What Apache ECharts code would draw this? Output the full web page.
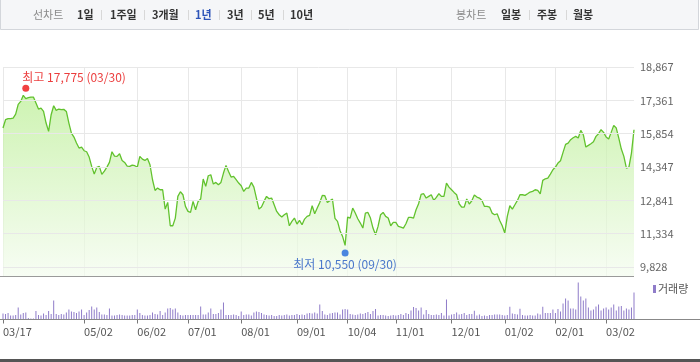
<!DOCTYPE html>
<html><head><meta charset="utf-8">
<script src="https://cdn.jsdelivr.net/npm/echarts@6/dist/echarts.min.js"></script>
<style>html,body{margin:0;padding:0;background:#fff}#c{width:700px;height:362px}</style>
</head><body><div id="c"></div>
<script>
const dates = [
'03/17','03/18','03/21','03/22','03/23','03/24','03/25','03/28','03/29','03/30','03/31',
'04/01','04/04','04/05','04/06','04/07','04/08','04/11','04/12','04/13','04/14','04/15','04/18','04/19','04/20','04/21','04/22','04/25','04/26','04/27','04/28','04/29',
'05/02','05/03','05/04','05/06','05/09','05/10','05/11','05/12','05/13','05/16','05/17','05/18','05/19','05/20','05/23','05/24','05/25','05/26','05/27','05/30','05/31',
'06/02','06/03','06/07','06/08','06/09','06/10','06/13','06/14','06/15','06/16','06/17','06/20','06/21','06/22','06/23','06/24','06/27','06/28','06/29','06/30',
'07/01','07/04','07/05','07/06','07/07','07/08','07/11','07/12','07/13','07/14','07/15','07/18','07/19','07/20','07/21','07/22','07/25','07/26','07/27','07/28','07/29',
'08/01','08/02','08/03','08/04','08/05','08/08','08/09','08/10','08/11','08/12','08/16','08/17','08/18','08/19','08/22','08/23','08/24','08/25','08/26','08/29','08/30','08/31',
'09/01','09/02','09/05','09/06','09/07','09/08','09/13','09/14','09/15','09/16','09/19','09/20','09/21','09/22','09/23','09/26','09/27','09/28','09/29','09/30',
'10/04','10/05','10/06','10/07','10/11','10/12','10/13','10/14','10/17','10/18','10/19','10/20','10/21','10/24','10/25','10/26','10/27','10/28','10/31',
'11/01','11/02','11/03','11/04','11/07','11/08','11/09','11/10','11/11','11/14','11/15','11/16','11/17','11/18','11/21','11/22','11/23','11/24','11/25','11/28','11/29','11/30',
'12/01','12/02','12/05','12/06','12/07','12/08','12/09','12/12','12/13','12/14','12/15','12/16','12/19','12/20','12/21','12/22','12/23','12/26','12/27','12/28','12/29',
'01/02','01/03','01/04','01/05','01/06','01/09','01/10','01/11','01/12','01/13','01/16','01/17','01/18','01/19','01/20','01/25','01/26','01/27','01/30','01/31',
'02/01','02/02','02/03','02/06','02/07','02/08','02/09','02/10','02/13','02/14','02/15','02/16','02/17','02/20','02/21','02/22','02/23','02/24','02/27','02/28',
'03/02','03/03','03/06','03/07','03/08','03/09','03/10','03/13','03/14','03/15','03/16','03/17'
];
const prices = [
16108,16485,16530,16530,16560,16741,17178,17313,17585,17434,
17479,17509,17509,17238,16967,17012,16861,16334,15957,16711,
17118,16907,16967,16937,16952,16861,16334,15881,15701,15430,
15204,15249,15083,15038,14797,14375,14028,14330,14375,14013,
14164,14345,14556,15038,14842,14827,14947,14646,14556,14390,
14375,14435,14405,14345,14827,14706,14646,14737,14450,13772,
13290,13395,13320,13320,12446,12748,11693,11693,12039,13019,
13230,13094,12567,12341,12296,12793,12416,12793,12898,13803,
13471,13953,13998,13577,13652,13546,13652,14074,14420,14149,
13893,13923,13773,13622,13501,13245,13396,13396,13652,13441,
12944,12446,12537,12793,13019,12914,12944,12642,12341,12190,
12085,12190,12265,11693,11889,12039,11768,11934,11738,11994,
12115,12160,12597,12235,12492,12748,13064,13049,12748,12823,
12899,12025,11889,11467,11211,10804,12085,12040,12492,12266,
12009,11814,11588,12266,12296,12040,11588,11286,11663,12190,
12296,12115,12040,11693,11844,11844,11663,11633,11588,11783,
12070,12070,12040,12416,12688,13110,13140,12944,13019,13094,
12838,12974,13140,13019,13019,13622,13441,13321,13200,13094,
12688,12537,12537,12899,12673,12823,13079,12989,12943,12838,
12567,12567,12537,12265,12190,12235,11934,11693,11361,12115,
12597,12446,12642,12838,13094,13094,13064,13139,13215,13245,
13320,13290,13139,13742,13817,13848,14029,14224,14345,14526,
14631,15008,15370,15430,15581,15671,15731,15656,16003,15807,
15249,15324,15400,15490,15731,15852,16033,15912,15701,15611,
15912,16229,16108,15656,15159,14827,14300,14345,14978,16033
];
const volumes = [
60,55,65,40,40,45,120,50,65,70,
15,10,10,85,45,40,60,45,85,55,
190,55,45,55,50,70,100,80,75,65,
80,100,45,70,95,130,100,120,75,50,
50,45,110,40,40,45,50,45,40,40,
40,45,45,100,65,45,40,40,45,70,
55,50,85,45,70,110,115,100,110,70,
45,40,45,45,45,45,45,45,130,50,
50,70,110,55,55,65,100,170,45,45,
45,50,45,35,80,45,50,50,40,70,
80,75,65,50,45,40,45,35,35,45,
40,45,50,40,45,45,55,45,50,45,
60,65,60,70,60,150,85,50,45,60,
65,70,70,50,100,105,100,55,50,45,
50,60,55,65,75,55,85,105,40,45,
45,40,35,40,45,40,45,55,45,65,
55,90,125,115,90,120,50,95,55,45,
45,50,45,65,40,200,40,50,55,70,
50,55,65,45,55,55,87,40,50,35,
40,35,45,45,50,50,50,45,40,45,
127,60,55,50,107,45,40,40,45,40,
40,60,50,127,65,65,65,100,65,105,
80,160,210,190,110,110,100,370,230,190,
210,120,90,100,130,150,90,110,120,100,
120,150,90,130,135,90,110,100,120,270
];
const priceTicks = [9828, 11334, 12841, 14347, 15854, 17361, 18867];
const monthLabels = ['03/17','05/02','06/02','07/01','08/01','09/01','10/04','11/01','12/01','01/02','02/01','03/02'];
const highPoint = { index: 9, value: 17775, text: '최고 17,775 (03/30)' };
const lowPoint = { index: 135, value: 10550, text: '최저 10,550 (09/30)' };
const periodTabs = ['1일','1주일','3개월','1년','3년','5년','10년'];
const candleTabs = ['일봉','주봉','월봉'];

const FONT = "'Noto Sans CJK KR', 'Noto Sans', sans-serif";
const labelIdx = new Set(monthLabels.map(m => dates.indexOf(m)));
const showIdx = (i) => labelIdx.has(i);
const fmt = v => String(v).replace(/\B(?=(\d{3})+(?!\d))/g, ',');

const chart = echarts.init(document.getElementById('c'), null, { renderer: 'canvas' });

const graphics = [
  { type: 'rect', shape: { x: 0.5, y: -1, width: 698, height: 30.5 }, style: { fill: '#f5f6f8', stroke: '#d3d6db', lineWidth: 1 }, z: 0 }
];
const tabX = [77, 110, 152, 195, 227, 258, 290];
const sepX = [101.5, 144.5, 188.5, 219.5, 251.5, 283.5];
graphics.push({ type: 'text', x: 33, y: 15, style: { text: '선차트', fill: '#8a8a8a', font: '11px ' + FONT, verticalAlign: 'middle' } });
periodTabs.forEach((t, k) => graphics.push({ type: 'text', x: tabX[k], y: 15, style: { text: t, fill: t === '1년' ? '#2d54b8' : '#333', font: 'bold 11px ' + FONT, verticalAlign: 'middle' } }));
sepX.forEach(x => graphics.push({ type: 'line', shape: { x1: x, y1: 10, x2: x, y2: 20 }, style: { stroke: '#d8d8d8', lineWidth: 1 } }));
const cX = [501, 537, 573];
graphics.push({ type: 'text', x: 456, y: 15, style: { text: '봉차트', fill: '#8a8a8a', font: '11px ' + FONT, verticalAlign: 'middle' } });
candleTabs.forEach((t, k) => graphics.push({ type: 'text', x: cX[k], y: 15, style: { text: t, fill: '#333', font: 'bold 11px ' + FONT, verticalAlign: 'middle' } }));
[529.5, 566.5].forEach(x => graphics.push({ type: 'line', shape: { x1: x, y1: 10, x2: x, y2: 20 }, style: { stroke: '#d8d8d8', lineWidth: 1 } }));
graphics.push({ type: 'line', shape: { x1: 0, y1: 276.5, x2: 634, y2: 276.5 }, style: { stroke: '#9a9a9a', lineWidth: 1 }, z: 10 });
graphics.push({ type: 'line', shape: { x1: 0, y1: 319.5, x2: 700, y2: 319.5 }, style: { stroke: '#888', lineWidth: 1 }, z: 10 });
graphics.push({ type: 'rect', shape: { x: 0, y: 359, width: 700, height: 3 }, style: { fill: '#555' } });
graphics.push({ type: 'rect', shape: { x: 653, y: 285, width: 3, height: 8 }, style: { fill: '#8f7cc9' } });
graphics.push({ type: 'text', x: 658, y: 289, style: { text: '거래량', fill: '#555', font: '11px ' + FONT, verticalAlign: 'middle' } });

chart.setOption({
  animation: false,
  backgroundColor: '#fff',
  textStyle: { fontFamily: FONT },
  graphic: graphics,
  grid: [
    { left: 3, right: 66, top: 67, height: 209.5 },
    { left: 3, right: 66, top: 277.5, height: 42 }
  ],
  xAxis: [
    { type: 'category', gridIndex: 0, data: dates, boundaryGap: false,
      axisLine: { show: false }, axisTick: { show: false }, axisLabel: { show: false },
      splitLine: { show: true, interval: showIdx, lineStyle: { color: '#e8e8e8', width: 1 } } },
    { type: 'category', gridIndex: 1, data: dates, boundaryGap: false,
      axisLine: { show: false },
      axisTick: { show: true, interval: showIdx, length: 4, lineStyle: { color: '#777' } },
      axisLabel: { show: true, interval: showIdx, align: 'left', margin: 7, color: '#555', fontSize: 11, fontFamily: FONT },
      splitLine: { show: false } }
  ],
  yAxis: [
    { type: 'value', gridIndex: 0, min: 9400, max: 18867, axisLine: { show: false }, axisTick: { show: false }, axisLabel: { show: false }, splitLine: { show: false } },
    { type: 'value', gridIndex: 1, min: 0, max: 420, show: false, splitLine: { show: false } }
  ],
  series: [
    { type: 'line', name: 'price', xAxisIndex: 0, yAxisIndex: 0, data: prices, symbol: 'none', z: 3,
      lineStyle: { color: '#62c22e', width: 1.3 },
      areaStyle: { color: new echarts.graphic.LinearGradient(0, 0, 0, 1, [
        { offset: 0, color: '#b9ee92' }, { offset: 1, color: '#f4fcef' }]) },
      markLine: { silent: true, symbol: ['none', 'none'], animation: false,
        lineStyle: { color: '#e8e8e8', type: 'solid', width: 1 },
        label: { position: 'end', distance: 6, color: '#666', fontSize: 11, fontFamily: FONT, formatter: p => fmt(p.value) },
        emphasis: { disabled: true },
        data: priceTicks.map(v => ({ yAxis: v })) } },
    { type: 'scatter', xAxisIndex: 0, yAxisIndex: 0, z: 5, symbolSize: 7, symbolOffset: [0, -3],
      itemStyle: { color: '#ee1111' },
      label: { show: true, position: [0, -13], align: 'left', verticalAlign: 'top', color: '#e60d0d', fontSize: 12, fontFamily: FONT, formatter: highPoint.text },
      data: [[highPoint.index, highPoint.value]] },
    { type: 'scatter', xAxisIndex: 0, yAxisIndex: 0, z: 5, symbolSize: 7, symbolOffset: [0, 2],
      itemStyle: { color: '#1f68dc' },
      label: { show: true, position: 'bottom', distance: 2, color: '#1f56c2', fontSize: 12, fontFamily: FONT, formatter: lowPoint.text },
      data: [[lowPoint.index, lowPoint.value]] },
    { type: 'bar', name: '거래량', xAxisIndex: 1, yAxisIndex: 1, data: volumes, barWidth: 1,
      itemStyle: { color: '#8f7cc9' } }
  ]
});
</script></body></html>
